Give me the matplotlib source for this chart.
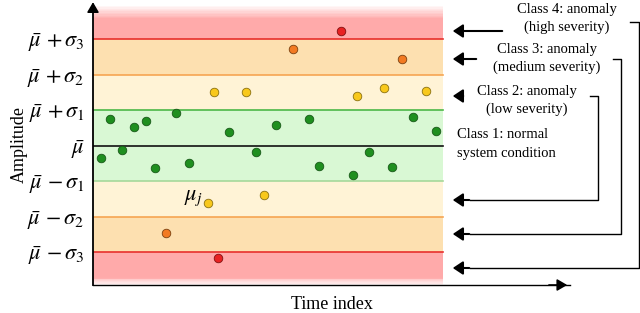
import numpy as np
import matplotlib.pyplot as plt

plt.rcParams['font.family'] = ['Liberation Serif', 'DejaVu Serif']
plt.rcParams['mathtext.fontset'] = 'stix'

# threshold levels (in units of sigma around mean)
levels = [-3, -2, -1, 0, 1, 2, 3]
level_labels = [r'$\bar{\mu}-\sigma_3$', r'$\bar{\mu}-\sigma_2$', r'$\bar{\mu}-\sigma_1$',
                r'$\bar{\mu}$', r'$\bar{\mu}+\sigma_1$', r'$\bar{\mu}+\sigma_2$',
                r'$\bar{\mu}+\sigma_3$']

# samples: time index and amplitude
green_x = [0.8, 1.7, 2.9, 4.1, 5.3, 6.2, 8.3, 9.6, 13.6, 16.3, 18.3, 21.6, 22.6, 26.0, 27.6, 29.9, 32.0, 34.3]
green_y = [-0.34, 0.76, -0.11, 0.54, 0.70, -0.62, 0.93, -0.48, 0.39, -0.17, 0.59, 0.76, -0.56, -0.82, -0.17, -0.59, 0.82, 0.42]
yellow_x = [11.5, 12.1, 15.3, 17.1, 26.4, 29.1, 33.3]
yellow_y = [-1.61, 1.52, 1.52, -1.38, 1.41, 1.63, 1.55]
orange_x = [7.3, 20.0, 30.9]
orange_y = [-2.45, 2.73, 2.45]
red_x = [12.5, 24.8]
red_y = [-3.15, 3.24]

fig = plt.figure(figsize=(6.4, 3.13), dpi=100)
ax = fig.add_axes([93/640, 1 - 285/313, (570 - 93)/640, (285 - 5)/313])
ymin, ymax = -3.92, 3.97
ax.set_xlim(0, 47.7)
ax.set_ylim(ymin, ymax)

band_end = 35.0
# colour bands
red_band = '#ffaaaa'
ax.fill_between([0, band_end], 3, 3.55, color=red_band, lw=0)
ax.fill_between([0, band_end], -3.65, -3, color=red_band, lw=0)
# soft outer edge of the red bands
edges = np.linspace(0, 1, 11)
for i in range(10):
    a = 1 - edges[i]
    ax.fill_between([0, band_end], 3.55 + 0.04 * i, 3.59 + 0.04 * i, color=red_band, alpha=a, lw=0)
    ax.fill_between([0, band_end], -3.69 - 0.025 * i, -3.65 - 0.025 * i, color=red_band, alpha=a, lw=0)
ax.fill_between([0, band_end], 2, 3, color='#fde0b0', lw=0)
ax.fill_between([0, band_end], -3, -2, color='#fde0b0', lw=0)
ax.fill_between([0, band_end], 1, 2, color='#fff3d6', lw=0)
ax.fill_between([0, band_end], -2, -1, color='#fff3d6', lw=0)
ax.fill_between([0, band_end], -1, 1, color='#d9f8d4', lw=0)

line_cols = {3: '#e8302c', -3: '#e8302c', 2: '#f6a552', -2: '#f6a552',
             1: '#4cb848', -1: '#a6d89a', 0: '#111111'}
for lv in levels:
    ax.plot([0, band_end], [lv, lv], color=line_cols[lv], lw=1.2, zorder=2)

ms = 38
ax.scatter(green_x, green_y, s=ms, c='#1f8f1f', edgecolors='#185818', lw=0.6, zorder=3)
ax.scatter(yellow_x, yellow_y, s=ms, c='#f8c81c', edgecolors='#8a7010', lw=0.6, zorder=3)
ax.scatter(orange_x, orange_y, s=ms, c='#f27a22', edgecolors='#7a4010', lw=0.6, zorder=3)
ax.scatter(red_x, red_y, s=ms, c='#e82222', edgecolors='#801010', lw=0.6, zorder=3)

ax.text(11.0, -1.48, r'$\mu_j$', fontsize=16, ha='right', va='center')

ax.set_yticks(levels)
ax.set_yticklabels([l.replace('+', r'\,+').replace('-', r'\,-') for l in level_labels], fontsize=16)
ax.tick_params(axis='y', length=0, pad=6)
ax.set_xticks([])
for s in ['top', 'right']:
    ax.spines[s].set_visible(False)
ax.spines['left'].set_linewidth(1.3)
ax.spines['bottom'].set_linewidth(1.0)
ax.set_ylabel('Amplitude', fontsize=13, labelpad=0)
ax.set_xlabel('Time index', fontsize=13)
ax.xaxis.set_label_coords(0.5, -0.04)

# axis arrow heads
head = dict(arrowstyle='-|>,head_length=0.6,head_width=0.35', color='black', lw=1.2, mutation_scale=10)
ax.annotate('', xy=(0, 1.02), xytext=(0, 0.97), xycoords='axes fraction',
            arrowprops=head, annotation_clip=False)
ax.annotate('', xy=(1.0, 0), xytext=(0.95, 0), xycoords='axes fraction',
            arrowprops=head, annotation_clip=False)

# class annotations on the right (figure pixel coords)
def fpx(x, y):
    return (x / 640, 1 - y / 313)

tk = dict(fontsize=10.5, transform=fig.transFigure, va='center')
fig.text(*fpx(567, 10), 'Class 4: anomaly', ha='center', **tk)
fig.text(*fpx(567, 27), '(high severity)', ha='center', **tk)
fig.text(*fpx(547, 50), 'Class 3: anomaly', ha='center', **tk)
fig.text(*fpx(547, 67), '(medium severity)', ha='center', **tk)
fig.text(*fpx(527, 92), 'Class 2: anomaly', ha='center', **tk)
fig.text(*fpx(527, 109), '(low severity)', ha='center', **tk)
fig.text(*fpx(457, 135), 'Class 1: normal', ha='left', **tk)
fig.text(*fpx(457, 153), 'system condition', ha='left', **tk)

arrow = dict(arrowstyle='-|>,head_length=0.6,head_width=0.4', color='black', lw=1.5, mutation_scale=10)
for x0, y0 in [(505, 31), (479, 59), (466, 96)]:
    ax.annotate('', xy=fpx(450, y0), xytext=fpx(x0, y0),
                xycoords='figure fraction', arrowprops=arrow, annotation_clip=False)

# bracket connectors
brackets = [(590, 598, 96, 200), (613, 621, 59, 234), (630, 639, 22, 268)]
for xs, xr, ytop, ybot in brackets:
    xx = [xs, xr, xr, 470]
    yy = [ytop, ytop, ybot, ybot]
    fig.add_artist(plt.Line2D([x / 640 for x in xx], [1 - y / 313 for y in yy],
                              color='black', lw=1.0, transform=fig.transFigure))
    ax.annotate('', xy=fpx(450, ybot), xytext=fpx(472, ybot), xycoords='figure fraction',
                arrowprops=arrow, annotation_clip=False)

fig.savefig('out.png', dpi=100)
